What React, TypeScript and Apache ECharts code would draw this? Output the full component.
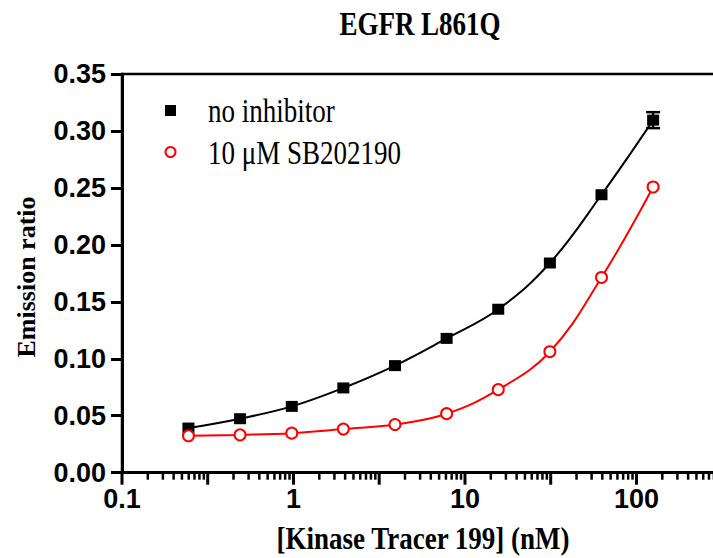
import React, { useEffect, useRef } from "react";
import * as echarts from "echarts";

// ---- data ----
const concentrations = [0.244, 0.488, 0.977, 1.953, 3.906, 7.8125, 15.625, 31.25, 62.5, 125];
const noInhibitor = [0.0392, 0.0474, 0.0582, 0.0744, 0.094, 0.1179, 0.1435, 0.1841, 0.244, 0.3095];
const noInhibitorErr = [0.001, 0.001, 0.001, 0.001, 0.001, 0.001, 0.001, 0.002, 0.002, 0.007];
const withSB = [0.0324, 0.0332, 0.0347, 0.0383, 0.0423, 0.0518, 0.0729, 0.1062, 0.1714, 0.2508];

const seriesNames = ["no inhibitor", "10 μM SB202190"];
const titleText = "EGFR L861Q";
const xTitle = "[Kinase Tracer 199] (nM)";
const yTitle = "Emission ratio";

const xMin = 0.1;
const xMax = 1000;
const yMin = 0;
const yMax = 0.35;
const yStep = 0.05;
const xMajorTicks = [0.1, 0.316, 1, 3.16, 10, 31.6, 100, 316];
const minorFactors = [2, 3, 4, 5, 6, 7, 8, 9];

const SANS = "'Liberation Sans', Arial, sans-serif";
const SERIF = "'Liberation Serif', 'Times New Roman', serif";

export default function App() {
  const ref = useRef<HTMLDivElement>(null);

  useEffect(() => {
    if (!ref.current) return;
    const chart = echarts.init(ref.current, undefined, { renderer: "svg" });

    const tickData: number[][] = [];
    xMajorTicks.forEach((m) => {
      tickData.push([m, 1]);
      minorFactors.forEach((k) => tickData.push([m * Math.sqrt(k), 0]));
    });

    const blackPts = concentrations.map((c, i) => [c, noInhibitor[i]]);
    const redPts = concentrations.map((c, i) => [c, withSB[i]]);
    const errPts = concentrations.map((c, i) => [c, noInhibitor[i], noInhibitorErr[i]]);

    const stretch = 1.28;

    chart.setOption({
      animation: false,
      backgroundColor: "#fff",
      grid: {
        left: 122,
        top: 74,
        bottom: 85.3,
        right: -95,
        show: true,
        borderColor: "#000",
        borderWidth: 2.5,
        containLabel: false,
        outerBoundsMode: "none",
      },
      xAxis: {
        type: "log",
        logBase: 10,
        min: xMin,
        max: xMax,
        position: "bottom",
        axisLine: { show: true, onZero: false, lineStyle: { color: "#000", width: 3 } },
        axisTick: { show: false },
        axisLabel: {
          show: true,
          showMaxLabel: false,
          margin: 13,
          fontFamily: SANS,
          fontWeight: "bold",
          fontSize: 27,
          color: "#000",
          formatter: (v: number) => (v >= xMax ? "" : String(v)),
        },
        splitLine: { show: false },
      },
      yAxis: {
        type: "value",
        min: yMin,
        max: yMax,
        interval: yStep,
        axisLine: { show: true, lineStyle: { color: "#000", width: 3 } },
        axisTick: { show: true, length: 11, lineStyle: { color: "#000", width: 3 } },
        axisLabel: {
          margin: 16,
          fontFamily: SANS,
          fontWeight: "bold",
          fontSize: 27,
          color: "#000",
          formatter: (v: number) => v.toFixed(2),
        },
        splitLine: { show: false },
      },
      graphic: [
        {
          type: "text",
          x: 420,
          y: 23,
          scaleY: stretch,
          style: {
            text: titleText,
            align: "center",
            verticalAlign: "middle",
            font: `bold 27px ${SERIF}`,
            fill: "#000",
          },
        },
        {
          type: "text",
          x: 423,
          y: 538,
          scaleY: 1.2,
          style: {
            text: xTitle,
            align: "center",
            verticalAlign: "middle",
            font: `bold 27px ${SERIF}`,
            fill: "#000",
          },
        },
        {
          type: "text",
          x: 26,
          y: 277,
          rotation: Math.PI / 2,
          style: {
            text: yTitle,
            align: "center",
            verticalAlign: "middle",
            font: `bold 26px ${SERIF}`,
            fill: "#000",
          },
        },
        // legend
        { type: "rect", shape: { x: 165, y: 105, width: 11, height: 11 }, style: { fill: "#000" } },
        {
          type: "circle",
          shape: { cx: 170.5, cy: 152, r: 5 },
          style: { fill: "#fff", stroke: "#ff0000", lineWidth: 2 },
        },
        {
          type: "text",
          x: 208,
          y: 110,
          scaleY: stretch,
          style: { text: seriesNames[0], align: "left", verticalAlign: "middle", font: `27px ${SERIF}`, fill: "#000" },
        },
        {
          type: "text",
          x: 208,
          y: 152,
          scaleY: stretch,
          style: { text: seriesNames[1], align: "left", verticalAlign: "middle", font: `27px ${SERIF}`, fill: "#000" },
        },
      ],
      series: [
        {
          name: "x-ticks",
          type: "custom",
          data: tickData,
          clip: false,
          silent: true,
          z: 5,
          renderItem: (params: any, api: any) => {
            const v = api.value(0);
            const major = api.value(1) === 1;
            const p = api.coord([v, 0]);
            return {
              type: "line",
              shape: { x1: p[0], y1: p[1], x2: p[0], y2: p[1] + (major ? 12 : 7) },
              style: { stroke: "#000", lineWidth: major ? 3 : 2.5 },
            };
          },
        },
        {
          name: "fit-black",
          type: "line",
          data: blackPts,
          smooth: 0.4,
          showSymbol: false,
          symbol: "none",
          lineStyle: { color: "#000", width: 2 },
          z: 2,
          silent: true,
        },
        {
          name: "fit-red",
          type: "line",
          data: redPts,
          smooth: 0.4,
          showSymbol: false,
          symbol: "none",
          lineStyle: { color: "#ff0000", width: 2 },
          z: 2,
          silent: true,
        },
        {
          name: "err-black",
          type: "custom",
          data: errPts,
          z: 3,
          silent: true,
          renderItem: (params: any, api: any) => {
            const x = api.value(0);
            const y = api.value(1);
            const e = api.value(2);
            const top = api.coord([x, y + e]);
            const bot = api.coord([x, y - e]);
            if (Math.abs(bot[1] - top[1]) < 13) return null;
            const hw = 7;
            const st = { stroke: "#000", lineWidth: 2.5 };
            return {
              type: "group",
              children: [
                { type: "line", shape: { x1: top[0], y1: top[1], x2: bot[0], y2: bot[1] }, style: st },
                { type: "line", shape: { x1: top[0] - hw, y1: top[1], x2: top[0] + hw, y2: top[1] }, style: st },
                { type: "line", shape: { x1: bot[0] - hw, y1: bot[1], x2: bot[0] + hw, y2: bot[1] }, style: st },
              ],
            };
          },
        },
        {
          name: seriesNames[0],
          type: "scatter",
          data: blackPts,
          symbol: "rect",
          symbolSize: [12, 11],
          itemStyle: { color: "#000", opacity: 1 },
          z: 4,
        },
        {
          name: seriesNames[1],
          type: "scatter",
          data: redPts,
          symbol: "circle",
          symbolSize: 11,
          itemStyle: { color: "#fff", borderColor: "#ff0000", borderWidth: 2, opacity: 1 },
          z: 4,
        },
      ],
    });

    return () => chart.dispose();
  }, []);

  return (
    <div
      ref={ref}
      style={{ position: "absolute", left: 0, top: 0, width: 713, height: 558 }}
    />
  );
}
